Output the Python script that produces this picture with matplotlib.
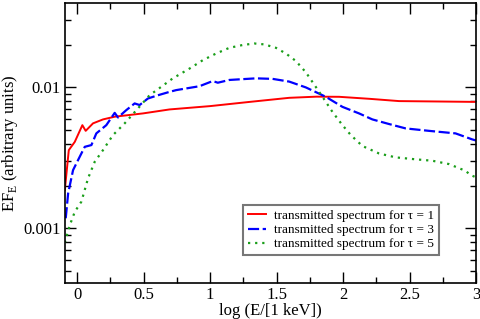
import matplotlib
matplotlib.use("Agg")
import matplotlib.pyplot as plt
from matplotlib.ticker import LogLocator, MultipleLocator, NullFormatter, FixedLocator, FixedFormatter

plt.rcParams['font.family'] = ['Liberation Serif', 'DejaVu Serif']
plt.rcParams['mathtext.fontset'] = 'custom'
plt.rcParams['mathtext.rm'] = 'Liberation Serif'

# tau = 1
x1 = [-0.092, -0.062, -0.017, 0.04, 0.065, 0.12, 0.195, 0.283, 0.495, 0.695, 1.0,
      1.3, 1.595, 1.8, 1.97, 2.2, 2.42, 2.7, 2.97, 3.0]
y1 = [0.00187, 0.00359, 0.00411, 0.0054, 0.00492, 0.00556, 0.00593, 0.0062, 0.00654, 0.00698, 0.00737,
      0.0079, 0.00844, 0.0086, 0.00858, 0.0083, 0.0080, 0.00795, 0.0079, 0.0079]

# tau = 3
x3 = [-0.085, -0.067, -0.03, 0.02, 0.058, 0.108, 0.145, 0.22, 0.283, 0.308, 0.37, 0.433, 0.47,
      0.533, 0.608, 0.695, 0.745, 0.92, 1.02, 1.058, 1.145, 1.345, 1.47, 1.595, 1.72, 1.745,
      1.87, 1.995, 2.12, 2.22, 2.345, 2.47, 2.645, 2.845, 2.97, 3.0]
y3 = [0.00118, 0.00177, 0.00259, 0.00322, 0.00379, 0.0039, 0.00472, 0.0054, 0.0066, 0.00612, 0.0069, 0.0077, 0.0075,
      0.00835, 0.0088, 0.0093, 0.00957, 0.0102, 0.0111, 0.0108, 0.0113, 0.0116, 0.0115, 0.011, 0.0100, 0.00975,
      0.00858, 0.00728, 0.00654, 0.00593, 0.0055, 0.00512, 0.00492, 0.00472, 0.00428, 0.0042]

# tau = 5
x5 = [-0.092, -0.055, -0.017, 0.033, 0.083, 0.133, 0.195, 0.27, 0.358, 0.458, 0.545, 0.62,
      0.72, 0.845, 0.945, 1.045, 1.145, 1.245, 1.333, 1.408, 1.495, 1.57, 1.645, 1.72,
      1.82, 1.87, 1.92, 1.995, 2.058, 2.145, 2.27, 2.395, 2.545, 2.67, 2.795, 2.92, 2.958, 3.0]
y5 = [0.00079, 0.00105, 0.00131, 0.00155, 0.00227, 0.00297, 0.00359, 0.00459, 0.00556, 0.0071, 0.0088, 0.0099,
      0.0116, 0.0136, 0.0156, 0.0174, 0.0191, 0.0200, 0.0205, 0.0202, 0.0191, 0.0174, 0.0154, 0.0128,
      0.0093, 0.0079, 0.0067, 0.0054, 0.00459, 0.00384, 0.0034, 0.00319, 0.00309, 0.00302, 0.00286, 0.00256, 0.00239, 0.0023]

labels = ['transmitted spectrum for \u03c4 = 1',
          'transmitted spectrum for \u03c4 = 3',
          'transmitted spectrum for \u03c4 = 5']

fig = plt.figure(figsize=(4.8, 3.19), dpi=100)
ax = fig.add_axes([0.135, 0.113, 0.857, 0.877])

ax.plot(x1, y1, color='#ff0000', lw=1.4, label=labels[0])
ax.plot(x3, y3, color='#0000ff', lw=1.6, dashes=(5, 1.6), label=labels[1])
ax.plot(x5, y5, color='#1a9e1a', lw=1.6, dashes=(1, 2.2), label=labels[2])

ax.set_yscale('log')
ax.set_xlim(-0.092, 3.0)
ax.set_ylim(4.1e-4, 0.0396)

ax.xaxis.set_minor_locator(MultipleLocator(0.25))
ax.set_xticks([0, 0.5, 1, 1.5, 2, 2.5, 3])
ax.set_xticklabels(['0', '0.5', '1', '1.5', '2', '2.5', '3'])
ax.yaxis.set_major_locator(FixedLocator([0.001, 0.01]))
ax.yaxis.set_major_formatter(FixedFormatter(['0.001', '0.01']))
ax.yaxis.set_minor_locator(LogLocator(base=10, subs=range(2, 10)))
ax.yaxis.set_minor_formatter(NullFormatter())

ax.tick_params(which='both', direction='in', top=True, right=True, labelsize=12, pad=3)
ax.tick_params(which='major', length=8, width=1)
ax.tick_params(which='minor', length=4, width=1)
for s in ax.spines.values():
    s.set_linewidth(1.2)

ax.set_xlabel('log (E/[1 keV])', fontsize=12, labelpad=0)
ax.set_ylabel('EF$_\\mathregular{E}$ (arbitrary units)', fontsize=12, labelpad=2)

leg = ax.legend(loc='lower left', bbox_to_anchor=(0.433, 0.1),
                fontsize=9.5, frameon=True, fancybox=False, handlelength=1.4,
                handletextpad=0.6, borderpad=0.35, labelspacing=0.15, borderaxespad=0)
leg.get_frame().set_edgecolor('#555555')
leg.get_frame().set_linewidth(1.5)

fig.savefig('out.png', dpi=100)
